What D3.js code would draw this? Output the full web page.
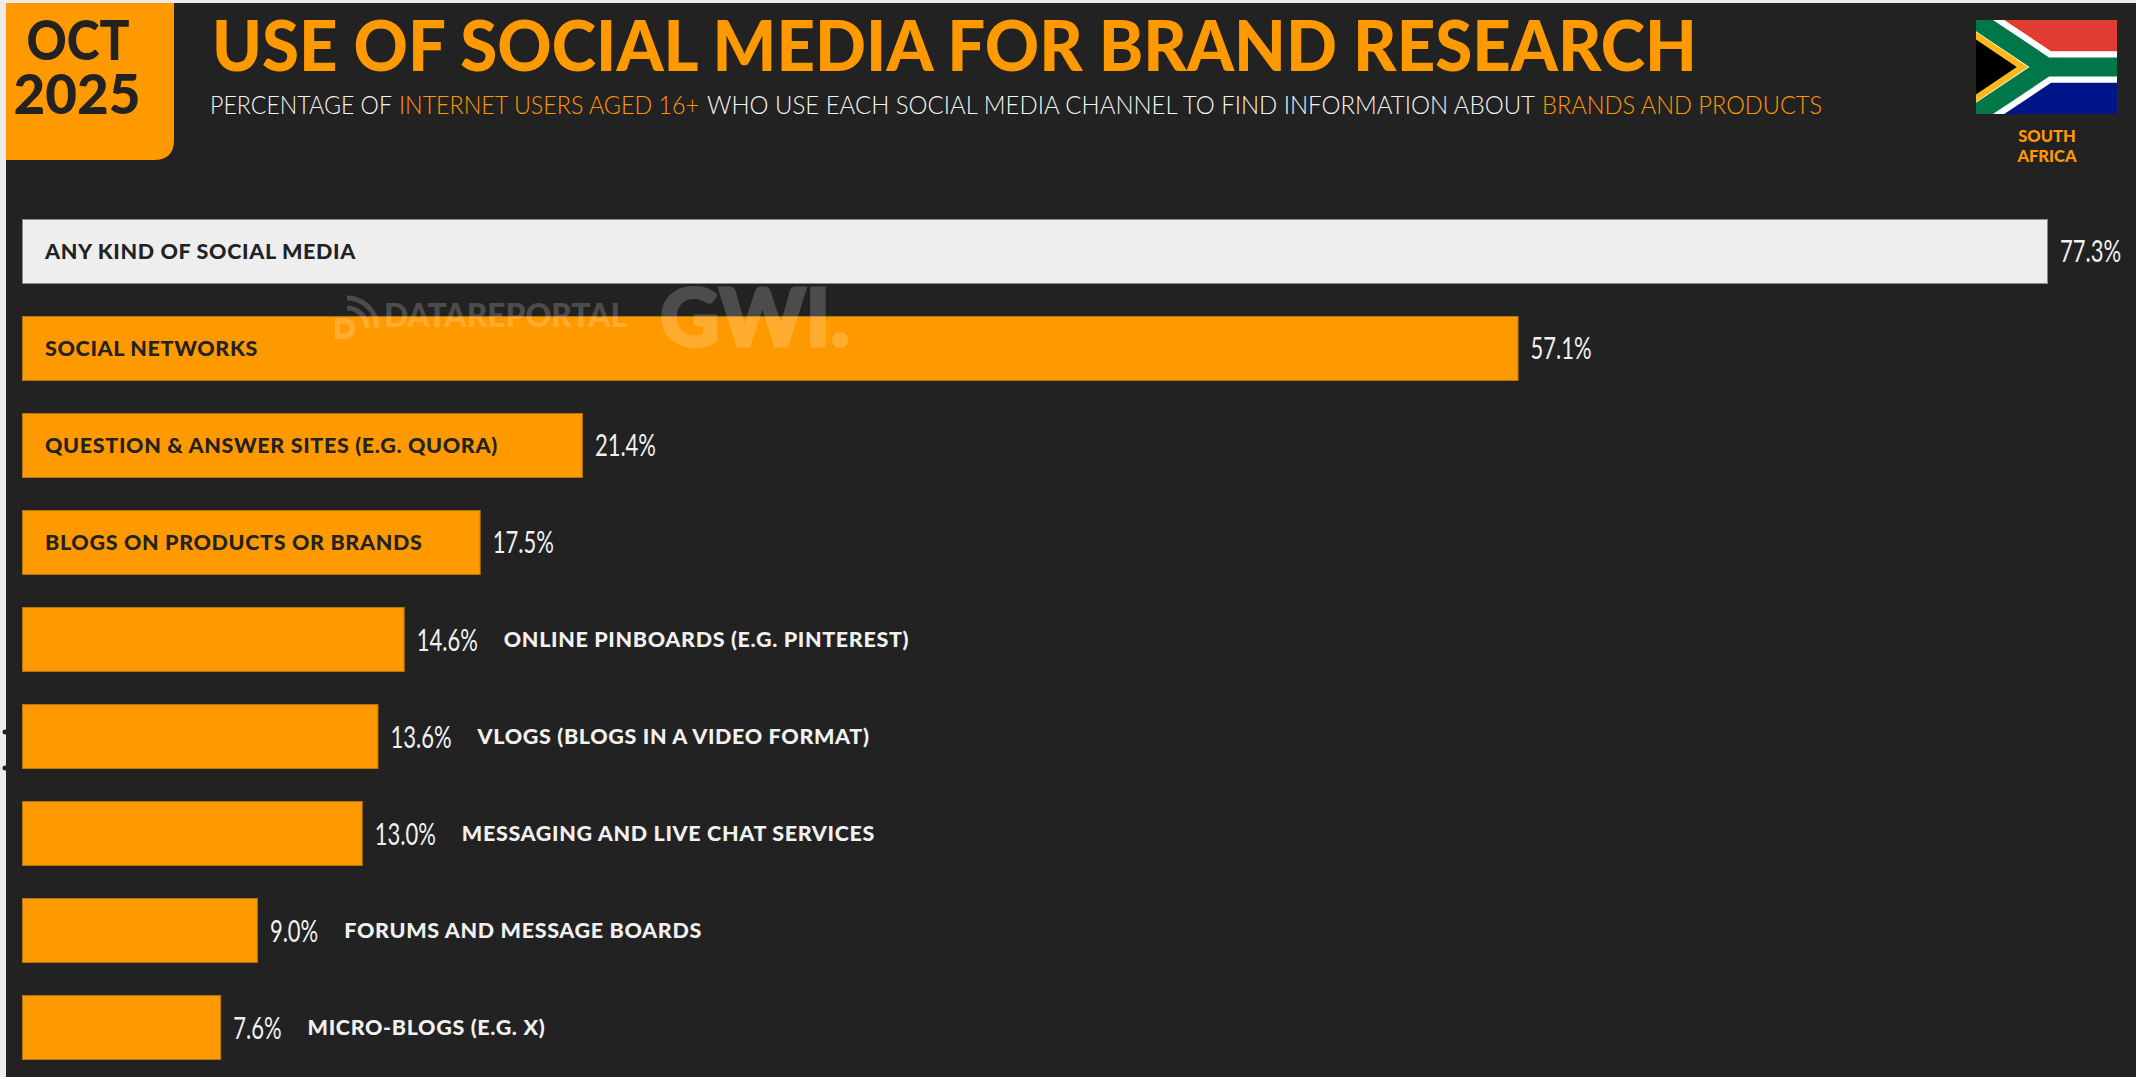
<!DOCTYPE html>
<html>
<head>
<meta charset="utf-8">
<script src="https://cdn.jsdelivr.net/npm/d3@7/dist/d3.min.js"></script>
<style>
html,body{margin:0;padding:0;background:#efebe8;overflow:hidden}
svg{display:block}
text{font-family:Lato,"Open Sans",sans-serif}
</style>
</head>
<body>
<svg id="chart" width="2136" height="1077"></svg>
<script>
const categories = [
  "ANY KIND OF SOCIAL MEDIA",
  "SOCIAL NETWORKS",
  "QUESTION & ANSWER SITES (E.G. QUORA)",
  "BLOGS ON PRODUCTS OR BRANDS",
  "ONLINE PINBOARDS (E.G. PINTEREST)",
  "VLOGS (BLOGS IN A VIDEO FORMAT)",
  "MESSAGING AND LIVE CHAT SERVICES",
  "FORUMS AND MESSAGE BOARDS",
  "MICRO-BLOGS (E.G. X)"
];
const values = [77.3, 57.1, 21.4, 17.5, 14.6, 13.6, 13.0, 9.0, 7.6];
const titleText = "USE OF SOCIAL MEDIA FOR BRAND RESEARCH";
const subtitleParts = [
  "PERCENTAGE OF",
  "INTERNET USERS AGED 16+",
  "WHO USE EACH SOCIAL MEDIA CHANNEL TO FIND INFORMATION ABOUT",
  "BRANDS AND PRODUCTS"
];

const ORANGE = "#ff9900", DARK = "#222222", LIGHT = "#eeeeee", INK = "#f1f1f1";
const svg = d3.select("#chart");

svg.append("rect").attr("x", 6).attr("y", 3).attr("width", 2130).attr("height", 1074).attr("fill", DARK);
svg.selectAll("circle.nick").data([732, 768]).join("circle")
  .attr("class", "nick").attr("cx", 5).attr("cy", d => d).attr("r", 2.5).attr("fill", DARK);

// Date badge, square on the page edge with one rounded corner
svg.append("path")
  .attr("d", "M6,3H174V140Q174,160 154,160H6Z")
  .attr("fill", ORANGE);
svg.append("text").text("OCT").attr("x", 78).attr("y", 60)
  .attr("text-anchor", "middle").attr("font-size", 55).attr("font-weight", 900)
  .attr("fill", DARK).attr("textLength", 103).attr("lengthAdjust", "spacingAndGlyphs");
svg.append("text").text("2025").attr("x", 77).attr("y", 114)
  .attr("text-anchor", "middle").attr("font-size", 55).attr("font-weight", 900)
  .attr("fill", DARK).attr("textLength", 127).attr("lengthAdjust", "spacingAndGlyphs");

// Heading block
svg.append("text").text(titleText).attr("x", 212).attr("y", 71)
  .attr("font-size", 71).attr("font-weight", 900).attr("fill", ORANGE)
  .attr("textLength", 1485).attr("lengthAdjust", "spacingAndGlyphs");

// Subtitle runs, every second one picked out in the accent colour
const subtitleStart = [210, 399, 707, 1542];
const subtitleWidth = [182, 300, 828, 280];
svg.selectAll("text.subtitle").data(subtitleParts).join("text")
  .attr("class", "subtitle").text(d => d)
  .attr("x", (d, i) => subtitleStart[i]).attr("y", 114)
  .attr("font-size", 25).attr("font-weight", 300)
  .attr("textLength", (d, i) => subtitleWidth[i]).attr("lengthAdjust", "spacingAndGlyphs")
  .attr("fill", (d, i) => i % 2 ? ORANGE : "#f4f4f4");

// Flag of South Africa
const flag = svg.append("g").attr("transform", "translate(1976,20) scale(0.15667)");
flag.append("clipPath").attr("id", "flagClip").append("rect").attr("width", 900).attr("height", 600);
const flagArt = flag.append("g").attr("clip-path", "url(#flagClip)");
flagArt.append("rect").attr("width", 900).attr("height", 300).attr("fill", "#e03c31");
flagArt.append("rect").attr("y", 300).attr("width", 900).attr("height", 300).attr("fill", "#001489");
const pall = "M-90,-60L450,300H960M-90,660L450,300";
flagArt.append("path").attr("d", pall).attr("fill", "none").attr("stroke", "#ffffff").attr("stroke-width", 200);
flagArt.append("path").attr("d", pall).attr("fill", "none").attr("stroke", "#007749").attr("stroke-width", 120);
flagArt.append("path").attr("d", "M0,77L332,300L0,523Z").attr("fill", "#ffb81c");
flagArt.append("path").attr("d", "M0,125L260,300L0,475Z").attr("fill", "#000000");
svg.selectAll("text.country").data(["SOUTH", "AFRICA"]).join("text")
  .attr("class", "country").text(d => d)
  .attr("x", 2047).attr("y", (d, i) => 142 + i * 19.6)
  .attr("text-anchor", "middle").attr("font-size", 16.5).attr("font-weight", 900)
  .attr("fill", ORANGE);

// Bars
const x = d3.scaleLinear().domain([0, 77.3]).range([22, 2048]);
const y = d3.scaleBand().domain(categories).range([219, 1060]).paddingInner(0.33);
const rows = categories.map((c, i) => ({ category: c, value: values[i], index: i }));
const valueScaleX = 0.71;

svg.selectAll("rect.bar").data(rows).join("rect")
  .attr("class", "bar")
  .attr("x", x(0) + 0.5)
  .attr("y", d => y(d.category) + 0.5)
  .attr("width", d => x(d.value) - x(0) - 1)
  .attr("height", y.bandwidth() - 1)
  .attr("fill", d => d.index === 0 ? LIGHT : ORANGE)
  .attr("stroke", d => d.index === 0 ? "#8a8a8a" : "#b57512")
  .attr("stroke-width", 1);

// Values: narrow figures just past each bar end
const valueLabels = svg.selectAll("text.value").data(rows).join("text")
  .attr("class", "value")
  .text(d => d.value.toFixed(1) + "%")
  .attr("transform", d => `translate(${x(d.value) + 12},${y(d.category) + y.bandwidth() / 2 + 11}) scale(${valueScaleX},1)`)
  .attr("font-family", '"Liberation Sans Narrow","Liberation Sans",sans-serif')
  .attr("font-size", 31)
  .attr("fill", INK);

// Category names sit inside the long bars and after the value on the short ones
const insideLimit = 15;
svg.selectAll("text.category").data(rows).join("text")
  .attr("class", "category")
  .text(d => d.category)
  .attr("x", function (d, i) {
    if (d.value > insideLimit) return x(0) + 23;
    const w = valueLabels.nodes()[i].getComputedTextLength() * valueScaleX;
    return x(d.value) + 12 + w + 26;
  })
  .attr("y", d => y(d.category) + y.bandwidth() / 2 + 7.5)
  .attr("font-size", 21.5).attr("font-weight", 900)
  .attr("letter-spacing", 0.65)
  .attr("fill", d => d.value > insideLimit ? DARK : INK);

// Source marks laid faintly over the chart
const marks = svg.append("g").attr("fill", "#ffffff").attr("opacity", 0.19);
marks.append("text").text("DATAREPORTAL").attr("x", 384).attr("y", 327)
  .attr("font-size", 33).attr("font-weight", 900)
  .attr("textLength", 243).attr("lengthAdjust", "spacingAndGlyphs");
marks.append("text").text("GWI.").attr("x", 660).attr("y", 346)
  .attr("font-size", 80).attr("font-weight", 900)
  .attr("stroke", "#ffffff").attr("stroke-width", 3)
  .attr("textLength", 190).attr("lengthAdjust", "spacingAndGlyphs");
marks.append("path")
  .attr("d", "M347,298A30,30 0 0 1 377,328")
  .attr("fill", "none").attr("stroke", "#ffffff").attr("stroke-width", 5);
marks.append("path")
  .attr("d", "M347,308A20,20 0 0 1 367,328")
  .attr("fill", "none").attr("stroke", "#ffffff").attr("stroke-width", 5);
marks.append("path")
  .attr("d", "M335,318H345A10.5,10.5 0 0 1 345,339H335Z M340,324V333H345A4.5,4.5 0 0 0 345,324Z")
  .attr("fill-rule", "evenodd");
</script>
</body>
</html>
